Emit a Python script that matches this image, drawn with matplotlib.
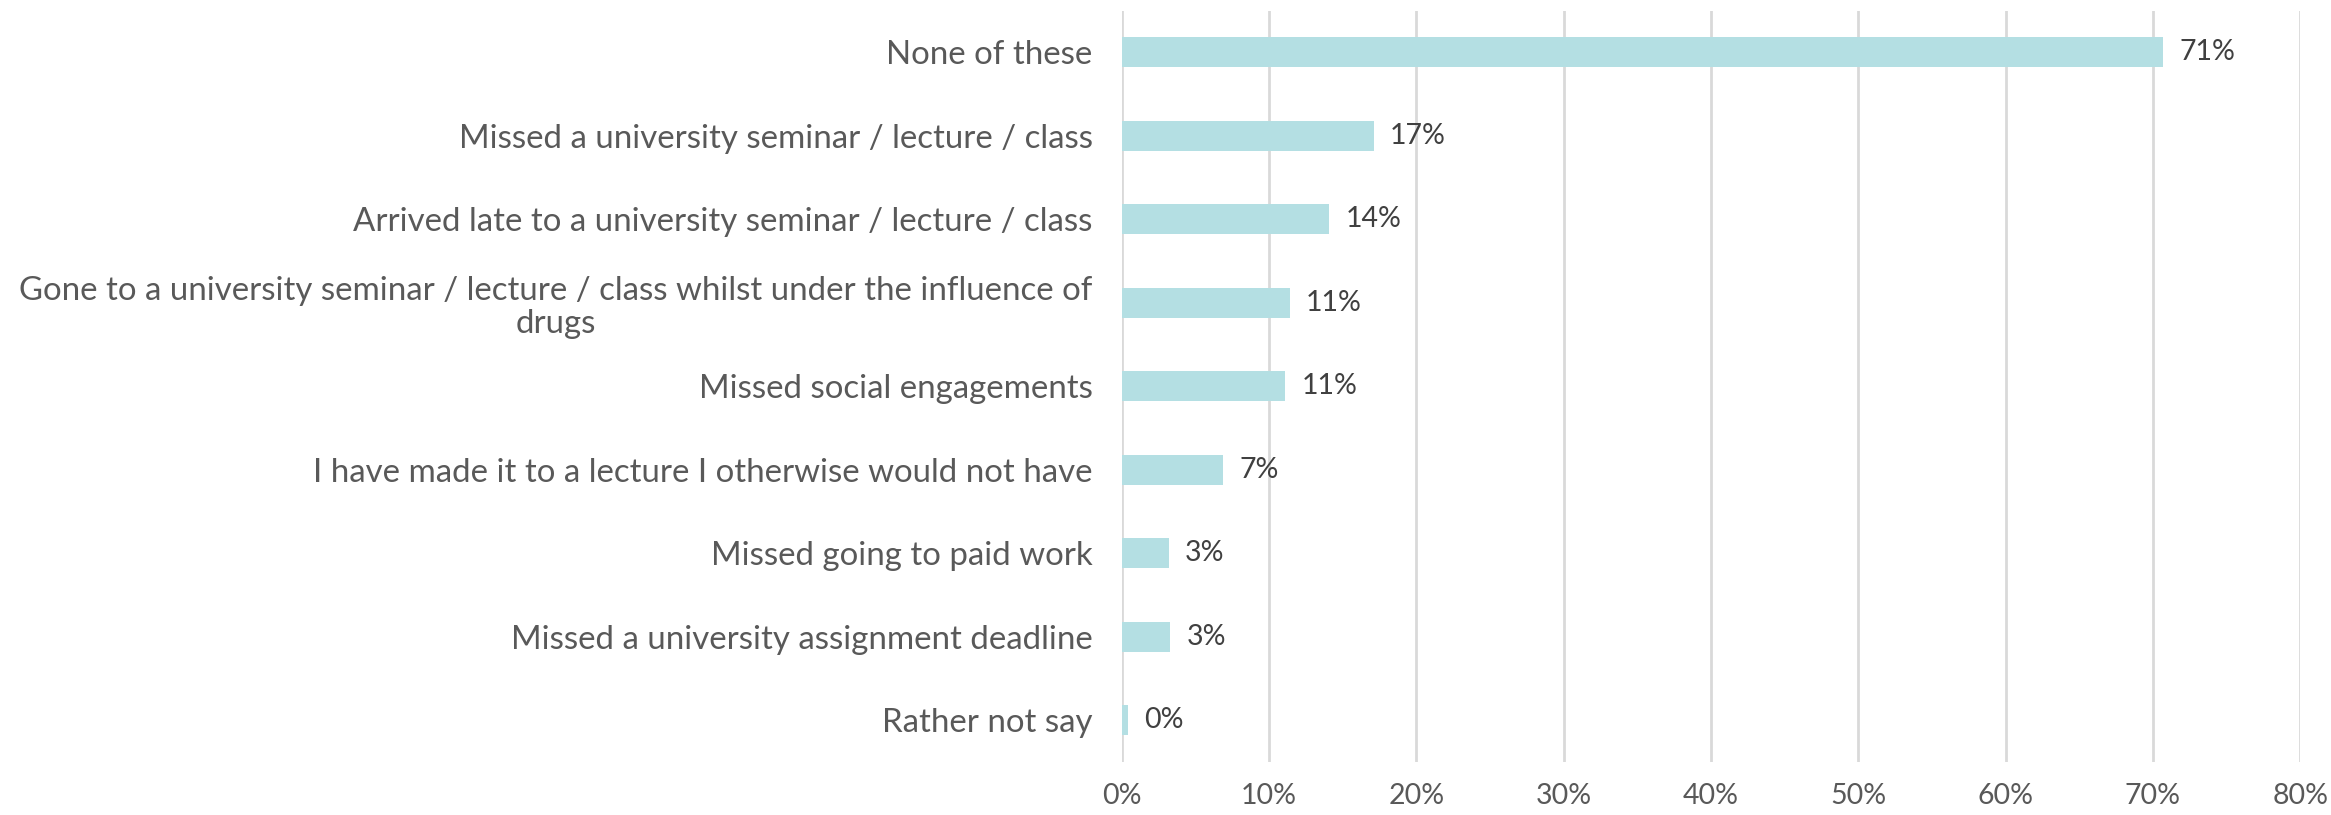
import numpy as np
import matplotlib
matplotlib.use("Agg")
import matplotlib.pyplot as plt
from matplotlib.ticker import FuncFormatter

categories = [
    "None of these",
    "Missed a university seminar / lecture / class",
    "Arrived late to a university seminar / lecture / class",
    "Gone to a university seminar / lecture / class whilst under the influence of\ndrugs",
    "Missed social engagements",
    "I have made it to a lecture I otherwise would not have",
    "Missed going to paid work",
    "Missed a university assignment deadline",
    "Rather not say",
]
values = [70.7, 17.1, 14.1, 11.4, 11.1, 6.9, 3.2, 3.3, 0.4]
x_ticks = [0, 10, 20, 30, 40, 50, 60, 70, 80]

plt.rcParams['font.family'] = ['Lato', 'DejaVu Sans']

fig = plt.figure(figsize=(23.31, 8.15), dpi=100)
ax = fig.add_axes([0.4812, 0.0654, 0.9868 - 0.4812, 0.9869 - 0.0654])

y = np.arange(len(categories))
ax.barh(y, values, height=0.36, color="#b4dfe3", zorder=2)

for yi, v in zip(y, values):
    ax.text(v + 1.1, yi, f"{v:.0f}%", va="center", ha="left",
            fontsize=20.5, color="#404040")

ax.set_yticks(y)
ax.set_yticklabels(categories)
for lbl in ax.get_yticklabels():
    lbl.set_multialignment("center")
    lbl.set_linespacing(1.15)
ax.set_ylim(len(categories) - 0.5, -0.5)

ax.set_xlim(0, 80)
ax.set_xticks(x_ticks)
ax.xaxis.set_major_formatter(FuncFormatter(lambda t, p: f"{t:.0f}%"))
ax.grid(axis="x", color="#d9d9d9", linewidth=2, zorder=0)

ax.tick_params(axis="y", length=0, pad=21, labelsize=23.8, labelcolor="#595959")
ax.tick_params(axis="x", length=0, pad=15, labelsize=20.5, labelcolor="#595959")
for s in ax.spines.values():
    s.set_visible(False)

fig.savefig("out.png", dpi=100)
